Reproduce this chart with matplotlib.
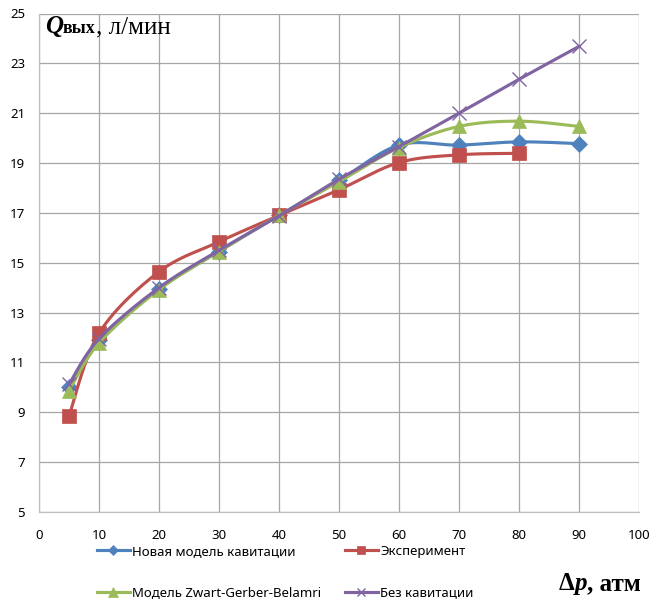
import numpy as np
import matplotlib
matplotlib.use("Agg")
import matplotlib.pyplot as plt
from matplotlib.lines import Line2D

# ---- data ----
x = [5, 10, 20, 30, 40, 50, 60, 70, 80, 90]
new_model = [10.0, 11.9, 13.95, 15.45, 16.9, 18.3, 19.72, 19.72, 19.85, 19.78]
experiment = [8.85, 12.17, 14.64, 15.84, 16.9, 17.93, 19.02, 19.33, 19.39]
x_exp = [5, 10, 20, 30, 40, 50, 60, 70, 80]
zgb = [9.86, 11.78, 13.92, 15.45, 16.9, 18.25, 19.62, 20.47, 20.68, 20.47]
no_cav = [10.12, 11.95, 14.0, 15.5, 16.88, 18.35, 19.66, 21.0, 22.36, 23.68]

labels = ["Новая модель кавитации", "Эксперимент",
          "Модель Zwart-Gerber-Belamri", "Без кавитации"]
colors = ["#4F81BD", "#C0504D", "#9BBB59", "#8064A2"]
xticks = list(range(0, 101, 10))
yticks = list(range(5, 26, 2))

def smooth(xs, ys, n=30):
    xs = np.asarray(xs, float); ys = np.asarray(ys, float)
    P = np.column_stack([xs, ys])
    out = [P[0]]
    m = len(P)
    for i in range(m - 1):
        p0 = P[i - 1] if i > 0 else P[i]
        p1 = P[i]; p2 = P[i + 1]
        p3 = P[i + 2] if i + 2 < m else P[i + 1]
        c1 = p1 + (p2 - p0) / 6.0
        c2 = p2 - (p3 - p1) / 6.0
        t = np.linspace(0, 1, n)[1:, None]
        seg = ((1 - t) ** 3) * p1 + 3 * ((1 - t) ** 2) * t * c1 + 3 * (1 - t) * t ** 2 * c2 + t ** 3 * p2
        out.extend(seg)
    out = np.array(out)
    return out[:, 0], out[:, 1]

W, H = 650, 603
fig = plt.figure(figsize=(W / 100, H / 100), dpi=100)
ax = fig.add_axes([39 / W, 1 - 512 / H, 600 / W, 498.5 / H])

series = [
    (x, new_model, colors[0], "D", 8.5, 5.0),
    (x_exp, experiment, colors[1], "s", 9.5, 6.0),
    (x, zgb, colors[2], "^", 10, 6.5),
    (x, no_cav, colors[3], "x", 9.5, 6.0),
]
handles = []
for i, (xs, ys, c, mk, ms, lms) in enumerate(series):
    sx, sy = smooth(xs, ys)
    ax.plot(sx, sy, color=c, lw=2.25, zorder=3 + i, solid_capstyle="round")
    kw = dict(markeredgewidth=1.0) if mk == "x" else dict(markeredgewidth=0.5)
    ax.plot(xs, ys, ls="none", marker=mk, ms=ms, color=c, markeredgecolor=c,
            zorder=3 + i, **kw)
    handles.append(Line2D([], [], color=c, lw=2.25, marker=mk, ms=lms,
                          markeredgecolor=c, **kw))

ax.set_xlim(0, 100)
ax.set_ylim(5, 25)
ax.set_xticks(xticks)
ax.set_yticks(yticks)
ax.grid(True, color="#a6a6a6", lw=0.9)
ax.set_axisbelow(True)
for s in ["top", "right"]:
    ax.spines[s].set_visible(False)
for s in ["left", "bottom"]:
    ax.spines[s].set_color("#bfbfbf")
    ax.spines[s].set_linewidth(0.9)
ax.tick_params(length=0, labelsize=9.5, colors="#000000", pad=10)
ax.tick_params(axis="x", pad=12)
for lab in ax.get_xticklabels() + ax.get_yticklabels():
    lab.set_fontfamily("Noto Sans")

# legends
leg_kw = dict(frameon=False, handlelength=2.5, handletextpad=0.15,
              labelspacing=2.15, borderpad=0, borderaxespad=0,
              prop={"family": "Noto Sans", "size": 9.5})
fig.legend([handles[0], handles[2]], [labels[0], labels[2]],
           loc="upper left", bbox_to_anchor=(97 / W, 1 - 545 / H), **leg_kw)
fig.legend([handles[1], handles[3]], [labels[1], labels[3]],
           loc="upper left", bbox_to_anchor=(345 / W, 1 - 545 / H), **leg_kw)

# axis titles: pieces chained by measured extents
renderer = fig.canvas.get_renderer()

def chain(px, py, pieces):
    cur = px
    for s, kw, gap in pieces:
        t = fig.text(cur / W, 1 - py / H, s, va="baseline", ha="left", **kw)
        bb = t.get_window_extent(renderer=renderer)
        cur = bb.x1 + gap

serif = "Liberation Serif"
chain(45, 33, [
    ("Q", dict(family=serif, fontsize=18, fontweight="bold", fontstyle="italic"), 0),
    ("вых", dict(family=serif, fontsize=13, fontweight="bold"), 0),
    (", л/мин", dict(family=serif, fontsize=18), 0),
])
chain(559, 590, [
    ("Δ", dict(family=serif, fontsize=18, fontweight="bold"), 0),
    ("p", dict(family=serif, fontsize=18, fontweight="bold", fontstyle="italic"), 0),
    (", атм", dict(family=serif, fontsize=18, fontweight="bold"), 0),
])

fig.savefig("out.png", dpi=100)
